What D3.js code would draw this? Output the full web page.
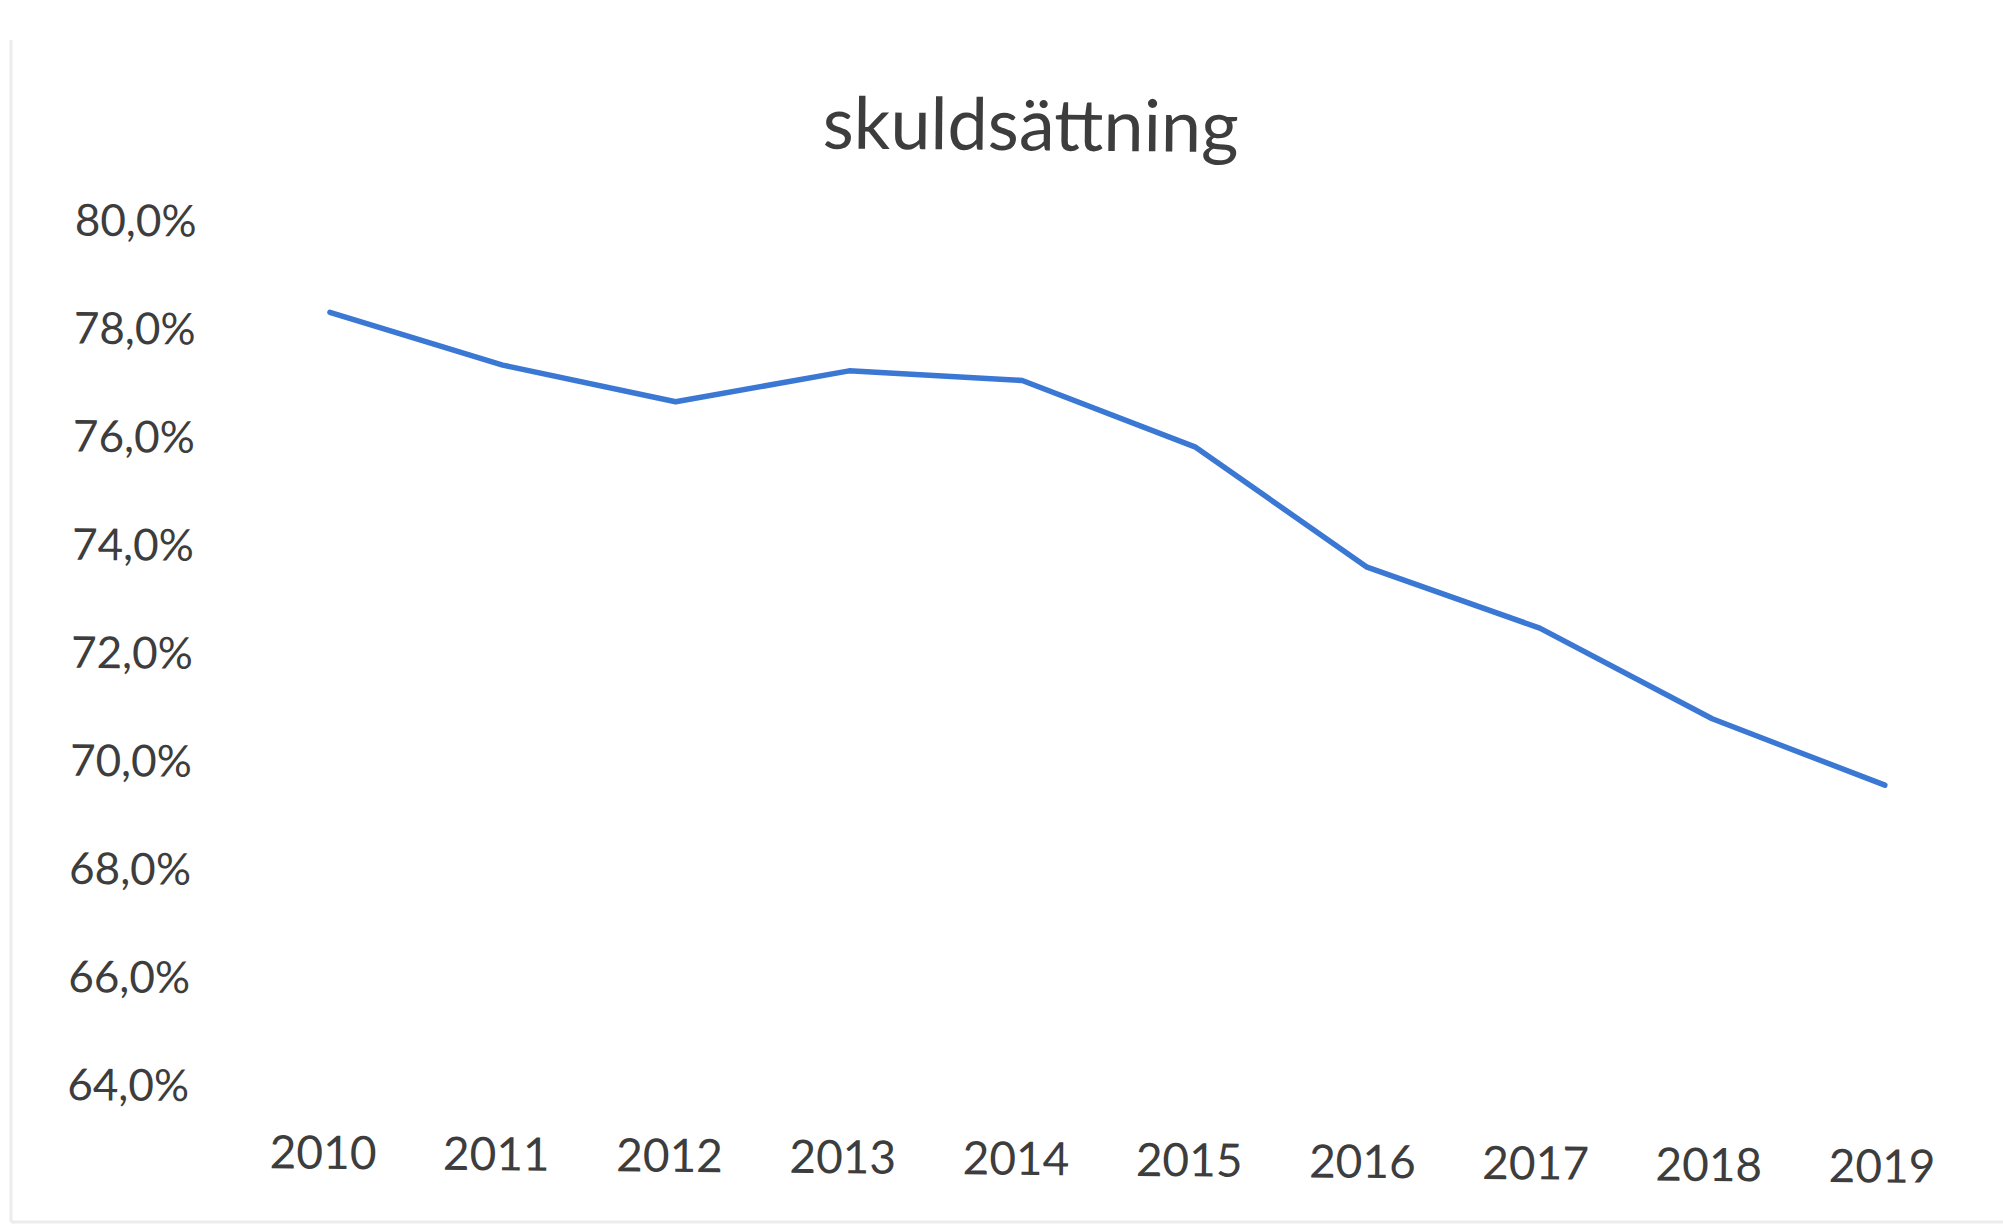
<!DOCTYPE html>
<html>
<head>
<meta charset="utf-8">
<script src="https://cdn.jsdelivr.net/npm/d3@7"></script>
<style>
  html, body { margin: 0; padding: 0; background: #fff; }
  svg { display: block; font-family: Lato, "Open Sans", sans-serif; }
</style>
</head>
<body>
<div id="chart"></div>
<script>
// skuldsättning per år (procent)
const years = ['2010', '2011', '2012', '2013', '2014', '2015', '2016', '2017', '2018', '2019'];
const skuld = [78.35, 77.4, 76.75, 77.35, 77.2, 76.0, 73.8, 72.7, 71.05, 69.85];
const yTicks = [64, 66, 68, 70, 72, 74, 76, 78, 80];
const title = 'skuldsättning';

const width = 2003;
const height = 1230;

const sv = d3.formatLocale({ decimal: ',', thousands: ' ', grouping: [3], currency: ['', ' kr'] });
const fmt = v => sv.format('.1f')(v) + '%';

const svg = d3.select('#chart')
    .append('svg')
    .attr('width', width)
    .attr('height', height);

// svag ram från inskanningen
svg.append('line')
    .attr('x1', 11).attr('x2', 11).attr('y1', 40).attr('y2', 1222)
    .attr('stroke', '#ececec').attr('stroke-width', 3);
svg.append('line')
    .attr('x1', 11).attr('x2', width).attr('y1', 1222).attr('y2', 1222)
    .attr('stroke', '#ececec').attr('stroke-width', 3);

// bilden är lite sned
const g = svg.append('g').attr('transform', 'rotate(0.5, 1000, 650)');

const x = d3.scalePoint()
    .domain(years)
    .range([240.4, 1972.6])
    .padding(0.5);

const y = d3.scaleLinear()
    .domain([64, 80])
    .range([1093.5, 229]);

// titel
g.append('text')
    .attr('x', 1026)
    .attr('y', 150)
    .attr('text-anchor', 'middle')
    .attr('font-size', 72)
    .attr('fill', '#3d3d3d')
    .text(title);

// y-axel
const yAxis = g.append('g')
    .attr('transform', 'translate(193,0)')
    .call(d3.axisLeft(y).tickValues(yTicks).tickSize(0).tickPadding(0).tickFormat(fmt));
yAxis.select('.domain').remove();
yAxis.selectAll('text')
    .attr('font-size', 44)
    .attr('font-family', 'Lato, "Open Sans", sans-serif')
    .attr('fill', '#3d3d3d');

// x-axel
const xAxis = g.append('g')
    .attr('transform', 'translate(0,1142)')
    .call(d3.axisBottom(x).tickSize(0).tickPadding(0));
xAxis.select('.domain').remove();
xAxis.selectAll('text')
    .attr('font-size', 46)
    .attr('font-family', 'Lato, "Open Sans", sans-serif')
    .attr('fill', '#3d3d3d');

// linje
const line = d3.line()
    .x((d, i) => x(years[i]))
    .y(d => y(d));

g.append('path')
    .datum(skuld)
    .attr('d', line)
    .attr('fill', 'none')
    .attr('stroke', '#3a78d4')
    .attr('stroke-width', 5.5)
    .attr('stroke-linejoin', 'round')
    .attr('stroke-linecap', 'round');
</script>
</body>
</html>
